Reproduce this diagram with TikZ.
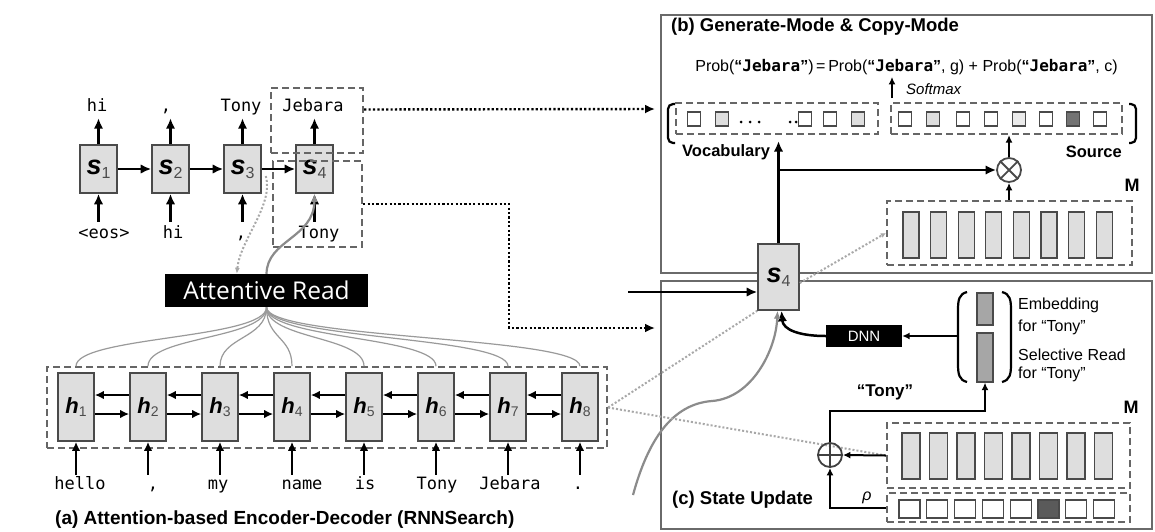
\documentclass[tikz,border=0pt]{standalone}
\usepackage{fontspec}
\setmainfont{Liberation Sans}
\setsansfont{Liberation Sans}
\setmonofont{DejaVu Sans Mono}
\newfontfamily\osans{Open Sans}
\usetikzlibrary{arrows.meta,calc}
\definecolor{boxc}{HTML}{4A4A4A}
\definecolor{cellfill}{HTML}{DEDEDE}
\definecolor{dashc}{HTML}{666666}
\definecolor{panelc}{HTML}{6A6A6A}
\definecolor{fanc}{HTML}{9A9A9A}
\definecolor{gdot}{HTML}{A8A8A8}
\definecolor{embfill}{HTML}{A6A6A6}
\definecolor{darksq}{HTML}{5A5A5A}
\newcommand\fsz[1]{\fontsize{#1}{#1}\selectfont}
\newcommand\sv[1]{{\fsz{27}\bfseries\itshape s}{\fsz{16}\color{gray!60!black}\raisebox{-4pt}{#1}}}
\newcommand\hv[1]{{\fsz{22}\bfseries\itshape h}{\fsz{14}\color{gray!60!black}\raisebox{-3pt}{#1}}}
\newcommand\jb{{\bfseries “{\ttfamily Jebara}”}}
\begin{document}
\begin{tikzpicture}[x=1pt,y=-1pt,
 cell/.style={draw=boxc, fill=cellfill, line width=1.6pt, inner sep=0pt},
 dec/.style={cell, minimum width=37pt, minimum height=48pt},
 enc/.style={cell, minimum width=36pt, minimum height=68pt},
 arr/.style={line width=2.5pt, -{Latex[length=10.5pt,width=9.5pt]}},
 earr/.style={line width=2.3pt, -{Latex[length=9pt,width=8.5pt]}},
 sarr/.style={line width=2pt, -{Latex[length=7.5pt,width=7pt]}},
 word/.style={font={\ttfamily\fsz{17}}, text height=10pt, text depth=2pt, inner sep=1pt},
 dbox/.style={draw=dashc, line width=2.2pt, dash pattern=on 7pt off 4pt, inner sep=0pt},
 dotarr/.style={line width=2.4pt, dash pattern=on 2.2pt off 2.2pt, -{Latex[length=10pt,width=9pt]}},
 gdotl/.style={draw=gdot, line width=2pt, dash pattern=on 2pt off 2pt},
 fan/.style={draw=fanc, line width=1.2pt},
 gcurve/.style={draw=fanc!90!black, line width=2.2pt},
 panel/.style={draw=panelc, line width=2.8pt, inner sep=0pt},
 blk/.style={fill=black, text=white, inner sep=0pt},
 sq/.style={draw=boxc, line width=1.3pt, minimum width=13pt, minimum height=14pt, inner sep=0pt},
 tall/.style={draw=boxc, fill=cellfill, line width=1.3pt, minimum width=16pt, minimum height=46pt, inner sep=0pt},
 lbl/.style={inner sep=0pt},
 paren/.style={line width=2.2pt, draw=black}
]
\useasboundingbox (0,0) rectangle (1155,531);
\fill[white] (0,0) rectangle (1155,531);

% ---------------- decoder ----------------
\foreach \i/\x in {1/98.5,2/170.5,3/242.5,4/314.5}
  \node[dec] (s\i) at (\x,169) {\sv{\i}};
\node[word] (o1) at (97,107) {hi};
\node[word] (o2) at (166,107) {,};
\node[word] (o3) at (241,107) {Tony};
\node[word] (o4) at (313,107) {Jebara};
\node[word] (i1) at (104,234) {<eos>};
\node[word] (i2) at (173,234) {hi};
\node[word] (i3) at (241,234) {,};
\node[word] (i4) at (319,234) {Tony};
\foreach \i in {1,...,4}{
  \draw[arr, shorten >=4pt] (s\i.north) -- (s\i.north |- o\i.south);
  \draw[arr, shorten <=5pt] (s\i.south |- i\i.north) -- (s\i.south);
}
\foreach \i/\j in {1/2,2/3,3/4} \draw[arr] (s\i.east) -- (s\j.west);
\node[dbox, minimum width=92pt, minimum height=65pt] (db1) at (317,120.5) {};
\node[dbox, minimum width=89pt, minimum height=86pt] (db2) at (317.5,204) {};

% ---------------- attentive read ----------------
\node[blk, minimum width=203pt, minimum height=33pt, font={\osans\fsz{24.5}}] (ar) at (266.5,290.5) {Attentive Read};
\draw[gdotl, -{Latex[length=6pt,width=5pt]}] ([xshift=4pt,yshift=-7pt]s3.east) .. controls (274,205) and (240,240) .. ($(ar.north west)+(72,0)$);
\draw[gcurve, -{Latex[length=8pt,width=7pt]}] (ar.north) .. controls (267,240) and (314,238) .. (s4.south);

% ---------------- encoder ----------------
\node[dbox, minimum width=560pt, minimum height=81pt] (eb) at (327,407.5) {};
\foreach \i in {1,...,8}
  \node[enc] (h\i) at ({76+72*(\i-1)},407) {\hv{\i}};
\foreach \i in {1,...,8}
  \draw[fan] (ar.south) .. controls +(0,32) and +(0,-30) .. ([yshift=6pt]h\i.north);
\foreach \i/\j in {1/2,2/3,3/4,4/5,5/6,6/7,7/8}{
  \draw[earr] ([yshift=12pt]h\j.west) -- ([yshift=12pt]h\i.east);
  \draw[earr] ([yshift=-7pt]h\i.east) -- ([yshift=-7pt]h\j.west);
}
\foreach \i/\x/\w in {1/80/hello,2/153/{,},3/218/my,4/302/name,5/365/is,6/437/Tony,7/510/Jebara,8/578/.}{
  \node[word] (w\i) at (\x,485) {\w};
  \draw[earr, shorten <=3pt] (h\i.south |- w\i.north) -- (h\i.south);
}
\node[lbl, anchor=west, font={\bfseries\fsz{19}}] (capa) at (55,520) {(a) Attention-based Encoder-Decoder (RNNSearch)};

% ---------------- panels ----------------
\node[panel, minimum width=491pt, minimum height=258pt] (pb) at (906.5,144) {};
\node[panel, minimum width=491pt, minimum height=248pt] (pc) at (906.5,405) {};
\node[lbl, anchor=west, font={\bfseries\fsz{18.5}}] (tb) at (671,27) {(b) Generate-Mode \& Copy-Mode};
\node[lbl, anchor=west, font={\bfseries\fsz{18.5}}] (tc) at (672,500) {(c) State Update};

% dotted connectors
\coordinate (pbin) at (655,109);
\coordinate (pcin) at (655,328);
\draw[dotarr] ([yshift=11pt]db1.east) -- (pbin);
\draw[dotarr] (db2.east) -- ++(146,0) |- (pcin);

% ---------------- panel (b) ----------------
\node[lbl, font={\fsz{16}}] (prob) at (906.5,67) {Prob(\jb)\,=\,Prob(\jb, g) + Prob(\jb, c)};
\coordinate (smb) at (892,98);
\draw[sarr, line width=1.8pt, shorten >=2pt] (smb) -- (smb |- prob.south);
\node[lbl, anchor=west, font={\itshape\fsz{15}}] (smx) at (906,89) {Softmax};
\draw[paren, rounded corners=5pt] (675,104) -- (668,104) -- (668,143) -- (675,143);
\draw[paren, rounded corners=5pt] (1129,104) -- (1136,104) -- (1136,143) -- (1129,143);
\node[dbox, minimum width=202pt, minimum height=31pt] (voc) at (777,118.5) {};
\foreach \x/\c in {694/white,722/cellfill,805/white,830/white,858/cellfill}
  \node[sq, fill=\c] at (\x,119) {};
\foreach \x in {741,750,759,790,796} \fill (\x,122) circle (1.5pt);
\node[dbox, minimum width=231pt, minimum height=31pt] (src) at (1006.5,118.5) {};
\foreach \x/\c in {905/white,933/cellfill,963/white,991/white,1019/cellfill!60,1046/white,1073/darksq!85,1100/white}
  \node[sq, fill=\c] at (\x,119) {};
\node[lbl, anchor=west, font={\bfseries\fsz{16.5}}] (vl) at (682,152) {Vocabulary};
\node[lbl, anchor=east, font={\bfseries\fsz{16.5}}] (sl) at (1122,152) {Source};

\node[dbox, minimum width=245pt, minimum height=64pt] (Mb) at (1009.5,233) {};
\foreach \k in {0,...,7} \node[tall] at ({911+27.6*\k},235) {};
\node[lbl, font={\bfseries\fsz{18}}] (Mlb) at (1132,185) {M};
\node[circle, draw=boxc, line width=1.8pt, minimum size=24pt, inner sep=0pt, fill=white] (ot) at (1009,170) {};
\draw[boxc, line width=1.8pt] (ot.north west) -- (ot.south east) (ot.north east) -- (ot.south west);
\draw[sarr] (ot.south |- Mb.north) -- (ot.south);
\draw[sarr] (ot.north) -- (ot.north |- src.south);

% ---------------- s4 (shared) ----------------
\node[cell, minimum width=41pt, minimum height=66pt] (S4) at (778.5,277) {\sv{4}};
\draw[arr, shorten >=6pt] (S4.north) -- (S4.north |- voc.south);
\draw[arr] (S4.north |- ot.west) -- (ot.west);
\draw[gdotl, -{Latex[length=5pt,width=5pt]}] ([yshift=-6pt]S4.east) -- (Mb.west);
\coordinate (s4in) at (628,292);
\draw[arr] (s4in) -- (s4in -| S4.west);

% ---------------- panel (c) ----------------
\node[blk, minimum width=76pt, minimum height=22pt, font={\fsz{15}}] (dnn) at (864,336) {DNN};
\node[draw=boxc, fill=embfill, line width=1.3pt, minimum width=16pt, minimum height=32pt, inner sep=0pt] (er) at (985,309) {};
\node[draw=boxc, fill=embfill, line width=1.3pt, minimum width=16pt, minimum height=49pt, inner sep=0pt] (sr) at (985,357.5) {};
\draw[paren] (967,292) .. controls (959,294) and (958,300) .. (958,310) -- (958,364) .. controls (958,374) and (959,380) .. (967,382);
\draw[paren] (1002,292) .. controls (1010,294) and (1011,300) .. (1011,310) -- (1011,364) .. controls (1011,374) and (1010,380) .. (1002,382);
\coordinate (pl) at (957,336);
\draw[sarr, line width=2.2pt] (pl) -- (dnn.east);
\node[lbl, anchor=west, font={\fsz{16}}] (t1) at (1018,305) {Embedding};
\node[lbl, anchor=west, font={\fsz{16}}] (t2) at (1018,327) {for “Tony”};
\node[lbl, anchor=west, font={\fsz{16}}] (t3) at (1018,355) {Selective Read};
\node[lbl, anchor=west, font={\fsz{16}}] (t4) at (1018,374) {for “Tony”};
\draw[arr] (dnn.west) .. controls (800,336) and (783,330) .. ([xshift=3pt]S4.south);
\coordinate (gcs) at (633,495);
\draw[gcurve, -{Latex[length=8pt,width=7pt]}] (gcs) .. controls (648,440) and (672,404) .. (712,401) .. controls (752,398) and (776,350) .. ([xshift=-1pt]S4.south);

\node[dbox, minimum width=243pt, minimum height=65pt] (Mc) at (1008.5,455.5) {};
\foreach \k in {0,...,7} \node[tall, minimum width=18pt] at ({911+27.5*\k},456) {};
\node[dbox, minimum width=243pt, minimum height=29pt] (rw) at (1008.5,507.5) {};
\foreach \k/\c in {0/white,1/white,2/white,3/white,4/white,5/darksq,6/white,7/white}
  \node[sq, minimum width=21pt, minimum height=18pt, fill=\c] at ({909.5+27.8*\k},509) {};
\node[lbl, font={\bfseries\fsz{18}}] (Mlc) at (1131,407) {M};

\draw[gdotl] (eb.east) -- (S4.south west);
\draw[gdotl] (eb.east) -- (Mc.west);
\node[circle, draw=gray!50!black, line width=1.8pt, minimum size=24pt, inner sep=0pt] (op) at (830,455) {};
\draw[gray!50!black, line width=1.8pt] (op.north) -- (op.south) (op.west) -- (op.east);
\draw[sarr] (Mc.west) -- (op.east);
\draw[sarr] (rw.west) -| (op.south);
\node[lbl, font={\itshape\fsz{16}}] (rho) at (867,498) {ρ};
\draw[sarr] (op.north) -- ++(0,-31) -| (sr.south);
\node[lbl, font={\bfseries\fsz{17}}] (tony) at (885,392) {“Tony”};
\end{tikzpicture}
\end{document}
